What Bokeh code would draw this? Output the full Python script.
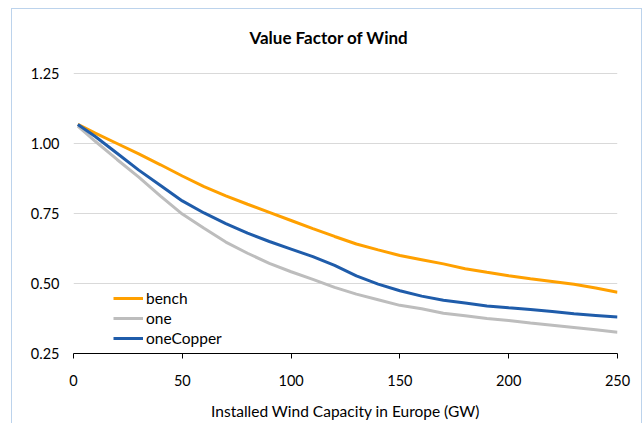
from bokeh.plotting import figure
from bokeh.models import Range1d, FixedTicker, Legend, LegendItem, NumeralTickFormatter, Label
from bokeh.embed import file_html
from bokeh.resources import INLINE

# Installed wind capacity in Europe (GW)
capacity = [2, 10, 20, 30, 40, 50, 60, 70, 80, 90, 100, 110, 120, 130, 140,
            150, 160, 170, 180, 190, 200, 210, 220, 230, 240, 250]

# Value factor of wind for each scenario
bench = [1.068, 1.037, 1.000, 0.963, 0.924, 0.884, 0.846, 0.813, 0.783, 0.754,
         0.725, 0.696, 0.668, 0.641, 0.620, 0.600, 0.585, 0.570, 0.553, 0.540,
         0.528, 0.517, 0.507, 0.497, 0.484, 0.469]
one = [1.062, 1.008, 0.943, 0.880, 0.812, 0.748, 0.697, 0.648, 0.608, 0.572,
       0.542, 0.515, 0.486, 0.462, 0.442, 0.422, 0.410, 0.394, 0.385, 0.375,
       0.368, 0.359, 0.351, 0.343, 0.335, 0.326]
one_copper = [1.068, 1.025, 0.965, 0.905, 0.850, 0.795, 0.752, 0.714, 0.680, 0.650,
              0.623, 0.596, 0.565, 0.527, 0.498, 0.474, 0.455, 0.440, 0.430, 0.420,
              0.413, 0.407, 0.400, 0.392, 0.386, 0.380]

x_ticks = [0, 50, 100, 150, 200, 250]
y_ticks = [0.25, 0.50, 0.75, 1.00, 1.25]

series = [("bench", bench, "#FFA000"),
          ("one", one, "#BDBDBD"),
          ("oneCopper", one_copper, "#1F5CAA")]

TITLE = "Value Factor of Wind"
FONT = "Lato"

# The frame runs up to the top of the chart area so the title can live inside it;
# the ticks and grid stop at 1.25.
p = figure(width=631, height=416, output_backend="svg", toolbar_location=None,
           x_range=Range1d(0, 250), y_range=Range1d(0.25, 1.4786),
           min_border_left=61, min_border_right=26, min_border_top=0,
           min_border_bottom=72,
           styles={"margin-left": "11px", "margin-top": "8px",
                   "border": "1px solid #BCD3EC"})

p.outline_line_color = None
p.background_fill_color = "white"
p.border_fill_color = "white"

# title, centred over the whole chart area
p.add_layout(Label(x=117.4, y=1.379, text=TITLE, text_align="center",
                   text_baseline="middle", text_font=FONT, text_font_size="17px",
                   text_font_style="bold", text_color="black"))

# x axis
xa = p.xaxis[0]
xa.ticker = FixedTicker(ticks=x_ticks)
xa.minor_tick_line_color = None
xa.major_tick_in = 0
xa.major_tick_out = 5
xa.axis_line_color = "black"
xa.major_tick_line_color = "black"
xa.major_label_text_font = FONT
xa.major_label_text_font_size = "14.5px"
xa.major_label_text_color = "black"
xa.major_label_standoff = 16
xa.axis_label = "Installed Wind Capacity in Europe (GW)"
xa.axis_label_text_font = FONT
xa.axis_label_text_font_size = "15.5px"
xa.axis_label_text_font_style = "normal"
xa.axis_label_text_color = "black"
xa.axis_label_standoff = 13

# y axis
ya = p.yaxis[0]
ya.ticker = FixedTicker(ticks=y_ticks)
ya.formatter = NumeralTickFormatter(format="0.00")
ya.axis_line_color = None
ya.major_tick_line_color = None
ya.minor_tick_line_color = None
ya.major_label_text_font = FONT
ya.major_label_text_font_size = "14.5px"
ya.major_label_text_color = "black"
ya.major_label_standoff = 8

p.xgrid.grid_line_color = None
p.ygrid.grid_line_color = "#D9D9D9"
p.ygrid.grid_line_width = 1

items = []
for name, vals, color in series:
    r = p.line(capacity, vals, line_color=color, line_width=3)
    items.append(LegendItem(label=name, renderers=[r]))

legend = Legend(items=items, location=(40, 5), margin=0, padding=0,
                spacing=0, glyph_width=30, glyph_height=20, label_height=20,
                label_standoff=3, label_text_font=FONT, label_text_font_size="15.5px",
                label_text_color="black", border_line_alpha=0,
                background_fill_alpha=0)
p.add_layout(legend)

open("out.html", "w").write(file_html(p, INLINE))
